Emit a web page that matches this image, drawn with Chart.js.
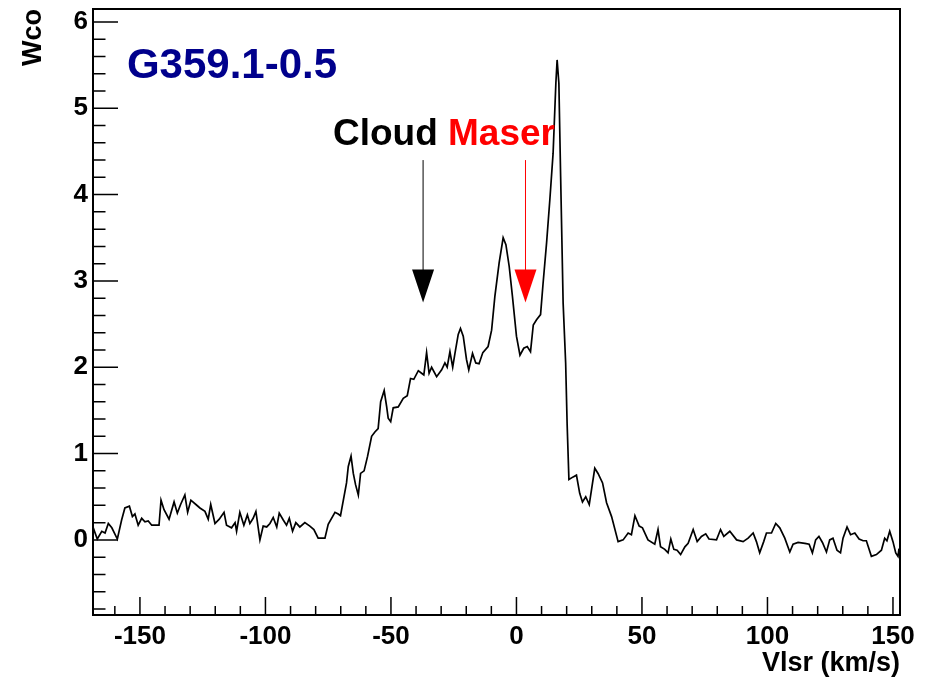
<!DOCTYPE html>
<html>
<head>
<meta charset="utf-8">
<script src="https://cdn.jsdelivr.net/npm/chart.js@4/dist/chart.umd.min.js"></script>
<style>
  html, body { margin: 0; padding: 0; background: #fff; }
  canvas { display: block; }
</style>
</head>
<body>
<canvas id="c" width="927" height="678"></canvas>
<script>
// CO spectrum towards G359.1-0.5: velocity (km/s) and integrated CO (Wco)
const vlsr = [
  -168.6, -167.0, -165.2, -163.9, -162.6, -161.2, -159.0, -157.3, -156.0, -154.2,
  -153.0, -152.0, -150.7, -149.3, -148.0, -146.7, -145.3, -142.4, -141.6, -140.4,
  -138.4, -136.4, -135.1, -133.8, -132.1, -131.0, -129.7, -127.7, -126.1, -124.1,
  -122.8, -121.8, -120.1, -118.4, -116.5, -115.5, -113.5, -112.1, -111.5, -110.2,
  -108.6, -107.2, -106.2, -104.9, -103.8, -102.2, -100.9, -99.5, -98.2, -96.9,
  -95.5, -94.5, -92.9, -91.6, -90.5, -89.2, -87.9, -86.3, -84.3, -82.3,
  -80.7, -79.0, -76.3, -75.0, -72.3, -71.0, -70.1, -67.7, -67.0, -65.9,
  -65.0, -64.1, -63.0, -62.1, -60.7, -59.3, -57.7, -56.4, -55.1, -54.1,
  -52.7, -51.7, -51.1, -50.1, -49.1, -47.1, -45.1, -43.5, -42.2, -40.9,
  -39.1, -37.8, -36.9, -35.8, -34.8, -33.8, -31.8, -29.8, -28.5, -27.6,
  -26.5, -25.4, -24.5, -23.2, -22.3, -21.2, -19.9, -19.0, -17.5, -16.2,
  -14.9, -13.4, -11.3, -9.9, -8.6, -6.9, -5.3, -4.2, -2.9, -1.6,
  0.0, 1.4, 2.9, 4.3, 5.6, 6.7, 8.0, 9.6, 10.6, 12.0,
  13.3, 14.6, 15.7, 16.2, 16.9, 17.6, 18.6, 19.6, 20.2, 20.9,
  22.6, 23.9, 25.2, 26.3, 27.6, 29.0, 31.2, 32.5, 34.3, 35.9,
  37.9, 40.5, 42.5, 44.5, 45.8, 47.2, 48.9, 50.2, 52.4, 55.1,
  56.4, 57.4, 59.1, 60.4, 61.5, 62.7, 64.0, 65.4, 67.1, 68.4,
  70.4, 72.0, 73.7, 75.4, 76.7, 79.7, 81.3, 82.6, 85.0, 87.7,
  90.3, 92.3, 94.3, 95.6, 96.9, 98.5, 99.6, 101.6, 103.3, 104.9,
  106.9, 108.9, 110.2, 112.2, 114.9, 116.6, 117.9, 119.2, 120.5, 121.9,
  123.5, 124.8, 126.1, 127.7, 129.1, 130.1, 131.7, 133.1, 134.8, 136.5,
  138.1, 139.4, 141.4, 143.4, 145.4, 146.7, 147.6, 148.7, 150.0, 151.1,
  152.0, 152.4
];
const wco = [
  0.14, 0.01, 0.10, 0.08, 0.19, 0.14, 0.01, 0.23, 0.37, 0.39,
  0.27, 0.30, 0.17, 0.25, 0.21, 0.22, 0.17, 0.17, 0.46, 0.35,
  0.24, 0.44, 0.31, 0.41, 0.52, 0.32, 0.46, 0.41, 0.37, 0.33,
  0.24, 0.41, 0.19, 0.24, 0.32, 0.17, 0.14, 0.20, 0.10, 0.32,
  0.17, 0.29, 0.19, 0.25, 0.33, 0.00, 0.16, 0.15, 0.19, 0.26,
  0.15, 0.31, 0.23, 0.17, 0.25, 0.10, 0.20, 0.15, 0.20, 0.16,
  0.12, 0.02, 0.02, 0.18, 0.32, 0.30, 0.28, 0.66, 0.85, 0.97,
  0.77, 0.64, 0.52, 0.77, 0.80, 0.97, 1.20, 1.25, 1.29, 1.60,
  1.73, 1.54, 1.41, 1.37, 1.53, 1.54, 1.64, 1.67, 1.87, 1.86,
  1.96, 1.93, 1.91, 2.17, 1.93, 2.00, 1.89, 1.97, 2.05, 2.00,
  2.18, 2.00, 2.16, 2.38, 2.45, 2.36, 2.09, 1.97, 2.16, 2.05,
  2.04, 2.17, 2.24, 2.43, 2.82, 3.21, 3.50, 3.42, 3.17, 2.82,
  2.36, 2.14, 2.22, 2.24, 2.18, 2.49, 2.55, 2.61, 2.97, 3.44,
  3.94, 4.48, 5.29, 5.56, 5.29, 4.21, 2.74, 2.05, 1.33, 0.70,
  0.73, 0.75, 0.54, 0.44, 0.50, 0.41, 0.83, 0.77, 0.66, 0.43,
  0.27, -0.02, 0.00, 0.08, 0.06, 0.28, 0.16, 0.14, 0.00, -0.05,
  0.12, -0.08, -0.11, -0.15, 0.01, -0.11, -0.12, -0.17, -0.08, -0.04,
  0.12, -0.02, 0.04, 0.07, 0.01, 0.00, 0.12, 0.04, 0.10, 0.00,
  -0.02, 0.02, 0.08, -0.02, -0.15, -0.02, 0.08, 0.08, 0.19, 0.14,
  0.02, -0.14, -0.05, -0.03, -0.04, -0.05, -0.15, 0.00, 0.04, -0.03,
  -0.14, 0.00, 0.02, -0.12, -0.15, 0.02, 0.15, 0.06, 0.08, 0.01,
  -0.01, -0.01, -0.19, -0.17, -0.12, 0.02, -0.01, 0.10, -0.02, -0.15,
  -0.19, -0.10
];

// Axis ranges and labelled ticks
const xRange = [-168.7, 152.8];
const yRange = [-0.87, 6.15];
const xTicks = [-150, -100, -50, 0, 50, 100, 150];
const yTicks = [0, 1, 2, 3, 4, 5, 6];

// Velocity markers (arrows) and their labels
const markerNames = ['Cloud', 'Maser'];
const markerVel = [-37.2, 3.6];
const markerColors = ['#000000', '#ff0000'];
const markerTop = 4.40;
const markerTip = 2.75;
const sourceName = 'G359.1-0.5';

const FONT = "'Liberation Sans', Arial, Helvetica, sans-serif";

const points = vlsr.map((v, i) => ({ x: v, y: wco[i] }));

// Frame, inward ticks, arrows and text labels
const decorations = {
  id: 'decorations',
  afterDatasetsDraw(chart) {
    const { ctx, chartArea: a, scales: { x, y } } = chart;
    ctx.save();

    // ticks inside the frame
    ctx.strokeStyle = '#000';
    ctx.lineWidth = 1.5;
    ctx.beginPath();
    for (let i = -16; i <= 15; i++) {
      const v = i * 10;
      const px = x.getPixelForValue(v);
      if (px < a.left || px > a.right) continue;
      const len = (v % 50 === 0) ? 18 : 9;
      ctx.moveTo(px, a.bottom);
      ctx.lineTo(px, a.bottom - len);
    }
    for (let i = -4; i <= 30; i++) {
      const v = i / 5;
      const py = y.getPixelForValue(v);
      if (py < a.top || py > a.bottom) continue;
      const len = (i % 5 === 0) ? 25 : 12.5;
      ctx.moveTo(a.left, py);
      ctx.lineTo(a.left + len, py);
    }
    ctx.stroke();

    // frame
    ctx.lineWidth = 2;
    ctx.strokeRect(a.left, a.top, a.right - a.left, a.bottom - a.top);

    // arrows
    const topPx = y.getPixelForValue(markerTop);
    const tipPx = y.getPixelForValue(markerTip);
    markerVel.forEach((v, i) => {
      const px = x.getPixelForValue(v);
      ctx.strokeStyle = markerColors[i];
      ctx.fillStyle = markerColors[i];
      ctx.lineWidth = 1;
      ctx.beginPath();
      ctx.moveTo(px, topPx);
      ctx.lineTo(px, tipPx - 30);
      ctx.stroke();
      ctx.beginPath();
      ctx.moveTo(px - 11, tipPx - 33);
      ctx.lineTo(px + 11, tipPx - 33);
      ctx.lineTo(px, tipPx);
      ctx.closePath();
      ctx.fill();
    });

    // marker labels
    ctx.font = `bold 37px ${FONT}`;
    ctx.textBaseline = 'alphabetic';
    ctx.textAlign = 'left';
    let lx = x.getPixelForValue(-73.1);
    const ly = y.getPixelForValue(4.57);
    markerNames.forEach((name, i) => {
      ctx.fillStyle = markerColors[i];
      ctx.fillText(name, lx, ly);
      lx += ctx.measureText(name + ' ').width;
    });

    // source name
    ctx.font = `bold 42px ${FONT}`;
    ctx.fillStyle = '#00008c';
    ctx.fillText(sourceName, x.getPixelForValue(-155.2), y.getPixelForValue(5.35));

    ctx.restore();
  }
};

const tickFont = { family: FONT, weight: 'bold', size: 26 };
const titleFont = { family: FONT, weight: 'bold', size: 27 };

new Chart(document.getElementById('c'), {
  type: 'scatter',
  data: {
    datasets: [{
      data: points,
      showLine: true,
      borderColor: '#000',
      borderWidth: 1.7,
      pointRadius: 0,
      tension: 0,
      fill: false
    }]
  },
  options: {
    responsive: false,
    animation: false,
    devicePixelRatio: 1,
    layout: { padding: { left: 0, top: 9, right: 27, bottom: 0 } },
    plugins: { legend: { display: false }, tooltip: { enabled: false } },
    scales: {
      x: {
        type: 'linear',
        min: xRange[0],
        max: xRange[1],
        grid: { display: false, drawTicks: false },
        border: { display: false },
        ticks: { font: tickFont, color: '#000', padding: 6, maxRotation: 0, autoSkip: false },
        afterBuildTicks: s => { s.ticks = xTicks.map(v => ({ value: v })); },
        afterFit: s => { s.height = 63; s.paddingLeft = 0; s.paddingRight = 0; },
        title: { display: true, text: 'Vlsr (km/s)', align: 'end', font: titleFont, color: '#000', padding: { top: 0, bottom: -2 } }
      },
      y: {
        type: 'linear',
        min: yRange[0],
        max: yRange[1],
        grid: { display: false, drawTicks: false },
        border: { display: false },
        ticks: { font: tickFont, color: '#000', padding: 5, autoSkip: false },
        afterBuildTicks: s => { s.ticks = yTicks.map(v => ({ value: v })); },
        afterFit: s => { s.width = 93; s.paddingTop = 0; s.paddingBottom = 0; },
        title: { display: true, text: 'Wco', align: 'end', font: titleFont, color: '#000', padding: { top: 17, bottom: 0 } }
      }
    }
  },
  plugins: [decorations]
});
</script>
</body>
</html>
